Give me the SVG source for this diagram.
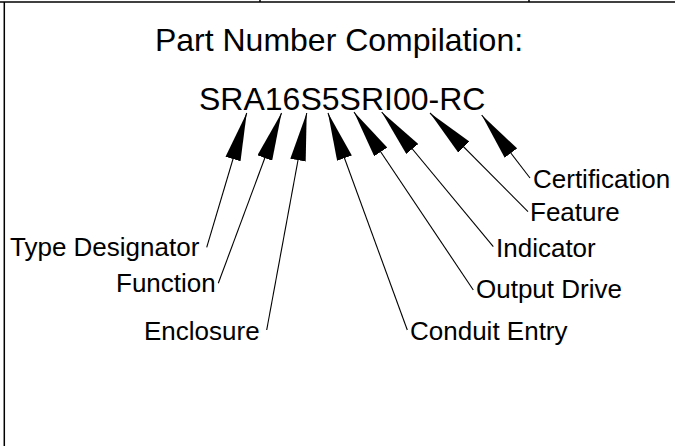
<svg xmlns="http://www.w3.org/2000/svg" width="675" height="446" viewBox="0 0 675 446">
<defs>
<style>
text{font-family:"Liberation Sans",Arial,sans-serif;fill:#000}
.t{font-size:32px}
.l{font-size:26px}
.c{stroke:#000;stroke-width:1.1;fill:none}
.f{stroke:#000;stroke-width:1.5;fill:none}
</style>
<marker id="ah" markerUnits="userSpaceOnUse" markerWidth="48" markerHeight="16" viewBox="0 0 46 15" refX="46" refY="7.5" orient="auto">
<path d="M0,0 L46,7.5 L0,15 Z" fill="#000"/>
</marker>
</defs>
<g id="frame">
<line class="f" x1="0" y1="2" x2="675" y2="2"/>
<line class="f" x1="4.3" y1="2" x2="4.3" y2="446"/>
<line class="f" x1="260" y1="0" x2="260" y2="2"/>
<line class="f" x1="529" y1="0" x2="529" y2="2"/>
</g>
<g id="title"><text class="t" x="339" y="51" text-anchor="middle">Part Number Compilation:</text></g>
<g id="partnumber"><text class="t" x="199" y="110">SRA16S5SRI00-RC</text></g>
<g id="connectors">
<line class="c" x1="206.7" y1="247.3" x2="246.7" y2="113" marker-end="url(#ah)"/>
<line class="c" x1="218.3" y1="283.3" x2="281.5" y2="113" marker-end="url(#ah)"/>
<line class="c" x1="266.7" y1="330" x2="306.7" y2="113" marker-end="url(#ah)"/>
<line class="c" x1="407.3" y1="330" x2="328" y2="113" marker-end="url(#ah)"/>
<line class="c" x1="473.3" y1="290" x2="354" y2="112" marker-end="url(#ah)"/>
<line class="c" x1="493.3" y1="246.7" x2="381.7" y2="112" marker-end="url(#ah)"/>
<line class="c" x1="528" y1="211.7" x2="430" y2="113" marker-end="url(#ah)"/>
<line class="c" x1="530" y1="178" x2="481.7" y2="115" marker-end="url(#ah)"/>
</g>
<g id="type-designator"><text class="l" x="10" y="256">Type Designator</text></g>
<g id="function"><text class="l" x="116" y="292">Function</text></g>
<g id="enclosure"><text class="l" x="144" y="340">Enclosure</text></g>
<g id="conduit-entry"><text class="l" x="410" y="340">Conduit Entry</text></g>
<g id="output-drive"><text class="l" x="476" y="298">Output Drive</text></g>
<g id="indicator"><text class="l" x="496" y="257">Indicator</text></g>
<g id="feature"><text class="l" x="530" y="221">Feature</text></g>
<g id="certification"><text class="l" x="533" y="188">Certification</text></g>
</svg>
